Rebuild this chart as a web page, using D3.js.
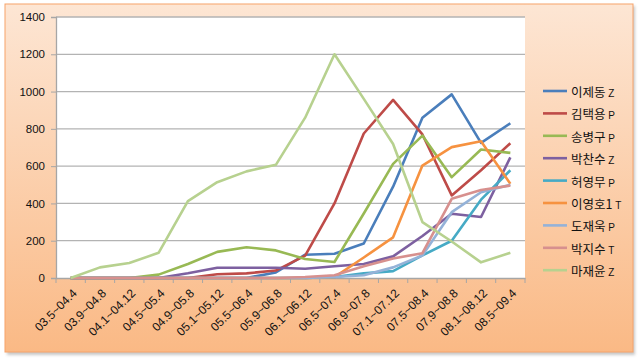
<!DOCTYPE html>
<html>
<head>
<meta charset="utf-8">
<title>Rating chart</title>
<script src="https://cdnjs.cloudflare.com/ajax/libs/d3/7.8.5/d3.min.js"></script>
<style>
  body { margin: 0; background: #fff; }
  svg { display: block; font-family: "Liberation Sans", "DejaVu Sans", sans-serif; }
</style>
</head>
<body>
<div id="chart"></div>
<script>
var categories = ["03.5~04.4","03.9~04.8","04.1~04.12","04.5~05.4","04.9~05.8","05.1~05.12",
  "05.5~06.4","05.9~06.8","06.1~06.12","06.5~07.4","06.9~07.8","07.1~07.12",
  "07.5~08.4","07.9~08.8","08.1~08.12","08.5~09.4"];

var names = ["이제동", "김택용", "송병구", "박찬수", "허영무", "이영호1", "도재욱", "박지수", "마재윤"];
var races = ["Z", "P", "P", "Z", "P", "T", "P", "T", "Z"];
var colors = ["#4a7ebb", "#be4b48", "#98b954", "#7d60a0", "#46aac5", "#f69240", "#94b2d8", "#d7908e", "#b7d18f"];

var leeJaedong  = [0,0,0,0,0,0,0,30,125,130,185,490,860,985,725,830];
var kimTaekyong = [0,0,0,0,0,20,25,40,120,400,775,955,770,443,578,723];
var songByunggu = [0,0,0,18,75,140,165,148,102,86,346,612,764,541,689,671];
var parkChansoo = [0,0,0,0,25,55,55,55,50,63,75,116,225,345,327,647];
var heoYoungmoo = [0,0,0,0,0,0,0,0,0,5,25,37,121,200,420,578];
var leeYoungho  = [0,0,0,0,0,0,0,0,0,5,110,218,603,702,733,505];
var doJaewook   = [0,0,0,0,0,0,0,0,0,5,15,57,121,353,460,500];
var parkJisoo   = [0,0,0,0,0,0,0,0,5,15,63,105,133,425,472,496];
var maJaeyoon   = [0,57,80,135,412,514,572,607,860,1200,961,719,300,196,84,135];

var yTicks = [0, 200, 400, 600, 800, 1000, 1200, 1400];

var seriesValues = [leeJaedong, kimTaekyong, songByunggu, parkChansoo, heoYoungmoo,
  leeYoungho, doJaewook, parkJisoo, maJaeyoon];

var width = 640, height = 361;
var plot = {left: 56, top: 17, right: 525, bottom: 278};

var svg = d3.select("#chart").append("svg")
  .attr("width", width)
  .attr("height", height);

var defs = svg.append("defs");
var grad = defs.append("linearGradient")
  .attr("id", "bg")
  .attr("x1", 0).attr("y1", 0).attr("x2", 0).attr("y2", 1);
grad.append("stop").attr("offset", "0%").attr("stop-color", "#fde6d4");
grad.append("stop").attr("offset", "100%").attr("stop-color", "#fab985");

var shadow = defs.append("filter").attr("id", "shadow")
  .attr("x", "-5%").attr("y", "-5%").attr("width", "110%").attr("height", "110%");
shadow.append("feGaussianBlur").attr("stdDeviation", 1.5);

// frame
svg.append("rect")
  .attr("x", 7).attr("y", 6).attr("width", 628).attr("height", 349)
  .attr("fill", "#c8c8c8")
  .attr("filter", "url(#shadow)");
svg.append("rect")
  .attr("x", 5).attr("y", 4).attr("width", 628).attr("height", 348)
  .attr("fill", "url(#bg)")
  .attr("stroke", "#f7a36a")
  .attr("stroke-width", 1);

// plot area
svg.append("rect")
  .attr("x", plot.left).attr("y", plot.top)
  .attr("width", plot.right - plot.left)
  .attr("height", plot.bottom - plot.top)
  .attr("fill", "#fff");

var x = d3.scaleBand()
  .domain(categories)
  .range([plot.left, plot.right]);

var y = d3.scaleLinear()
  .domain([0, 1400])
  .range([plot.bottom, plot.top]);

// gridlines
svg.append("g")
  .selectAll("line")
  .data(yTicks.filter(function(d) { return d > 0; }))
  .enter().append("line")
  .attr("x1", plot.left).attr("x2", plot.right)
  .attr("y1", function(d) { return y(d); })
  .attr("y2", function(d) { return y(d); })
  .attr("stroke", "#b3b3b3")
  .attr("stroke-width", 1.3);

// y axis
var yAxis = svg.append("g")
  .attr("transform", "translate(" + plot.left + ",0)")
  .call(d3.axisLeft(y).tickValues(yTicks).tickFormat(d3.format("d")).tickSize(5).tickPadding(6));
yAxis.select(".domain").attr("stroke", "#a6a6a6").attr("stroke-width", 1.3);
yAxis.selectAll(".tick line").attr("stroke", "#a6a6a6");
yAxis.selectAll("text")
  .attr("fill", "#111")
  .style("font-size", "11.5px");

// x axis
var xAxis = svg.append("g")
  .attr("transform", "translate(0," + plot.bottom + ")")
  .call(d3.axisBottom(x).tickSize(0).tickFormat(""));
xAxis.select(".domain").attr("stroke", "#a6a6a6").attr("stroke-width", 1.3);

var boundaries = categories.map(function(c) { return x(c); }).concat([plot.right]);
svg.append("g")
  .selectAll("line")
  .data(boundaries)
  .enter().append("line")
  .attr("x1", function(d) { return d; })
  .attr("x2", function(d) { return d; })
  .attr("y1", plot.bottom)
  .attr("y2", plot.bottom + 5)
  .attr("stroke", "#a6a6a6");

svg.append("g")
  .selectAll("text")
  .data(categories)
  .enter().append("text")
  .attr("transform", function(d) {
    var cx = x(d) + x.bandwidth() / 2 + 4;
    return "translate(" + cx + "," + (plot.bottom + 13) + ") rotate(-45)";
  })
  .attr("text-anchor", "end")
  .attr("dy", "0.35em")
  .attr("fill", "#111")
  .style("font-size", "12px")
  .text(function(d) { return d; });

// lines
var line = d3.line()
  .x(function(d, i) { return x(categories[i]) + x.bandwidth() / 2; })
  .y(function(d) { return y(d); });

svg.append("g")
  .selectAll("path")
  .data(seriesValues)
  .enter().append("path")
  .attr("d", line)
  .attr("fill", "none")
  .attr("stroke", function(d, i) { return colors[i]; })
  .attr("stroke-width", 2.6)
  .attr("stroke-linejoin", "round");

// legend
var legend = svg.append("g")
  .selectAll("g")
  .data(names)
  .enter().append("g")
  .attr("transform", function(d, i) { return "translate(543," + (91 + i * 22.4) + ")"; });

legend.append("line")
  .attr("x1", 0).attr("x2", 24)
  .attr("stroke", function(d, i) { return colors[i]; })
  .attr("stroke-width", 2.6);

var lt = legend.append("text")
  .attr("x", 28)
  .attr("dy", "0.38em")
  .attr("fill", "#111")
  .style("font-family", "'Noto Sans CJK KR', sans-serif");
lt.append("tspan")
  .style("font-size", "12.5px")
  .text(function(d) { return d + " "; });
lt.append("tspan")
  .style("font-size", "10px")
  .style("font-family", "'Liberation Sans', sans-serif")
  .text(function(d, i) { return races[i]; });
</script>
</body>
</html>
